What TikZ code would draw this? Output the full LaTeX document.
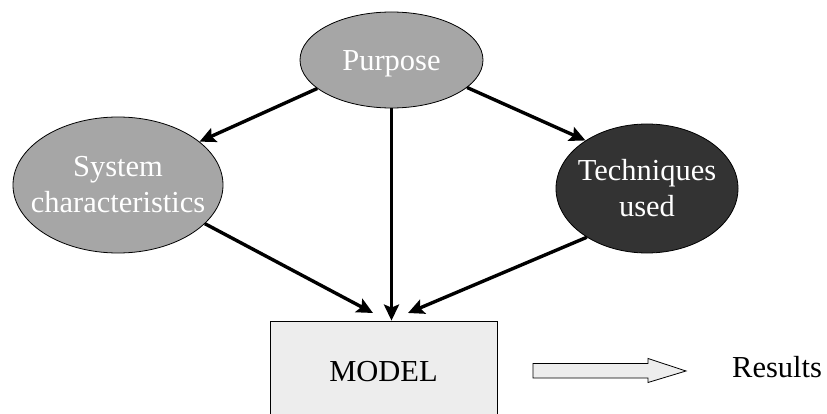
\documentclass[tikz,border=0pt]{standalone}
\usepackage{fontspec}
\setmainfont{Liberation Serif}
\usetikzlibrary{arrows.meta,shapes.geometric}
\definecolor{midgray}{HTML}{A6A6A6}
\definecolor{darkfill}{HTML}{333333}
\definecolor{paleboxfill}{HTML}{EDEDED}
\begin{document}
\begin{tikzpicture}[x=1pt,y=-1pt,
  bigtext/.style={font=\fontsize{30.5}{36}\selectfont},
  % negative inner sep so that the minimum sizes alone fix the ellipses
  bubble/.style={ellipse, draw=black, line width=0.8pt, inner sep=-40pt,
    text=white, align=center, bigtext},
  flow/.style={line width=3.4pt, -{Stealth[length=16pt,width=15pt,inset=3pt]}},
  modelbox/.style={draw=black, line width=0.8pt, fill=paleboxfill,
    inner sep=0pt, bigtext},
]
\useasboundingbox (0,0) rectangle (827,414);

% influencing factors
\node[bubble, fill=midgray, minimum width=183pt, minimum height=96pt,
      text height=21pt, text depth=0pt] (pur) at (391.5,60) {Purpose};
\node[bubble, fill=midgray, minimum width=210pt, minimum height=136pt] (sys)
      at (118,185) {System\\characteristics};
\node[bubble, fill=darkfill, minimum width=182pt, minimum height=129pt] (tech)
      at (647,188.5) {Techniques\\used};

% the model itself (runs off the bottom edge)
\node[modelbox, minimum width=227pt, minimum height=102pt] (model)
      at (383.5,372) {MODEL};

% arrow heads of the side inputs stop short of the box
\coordinate (inL) at (373,313);
\coordinate (inR) at (408,313);

\draw[flow] (pur.201) -- (sys.28);
\draw[flow] (pur.340) -- (tech.142);
\draw[flow] (pur.south) -- (pur.south |- model.north);
\draw[flow] (sys.336) -- (inL);
\draw[flow] (tech.219) -- (inR);

% output block arrow
\draw[line width=0.8pt, fill=paleboxfill]
  (533,363.5) -- (648,363.5) -- (648,358.5) -- (686,371)
  -- (648,382.5) -- (648,378) -- (533,378) -- cycle;
\node[bigtext, anchor=base west, inner sep=0pt] (res) at (732,377) {Results};
\end{tikzpicture}
\end{document}
